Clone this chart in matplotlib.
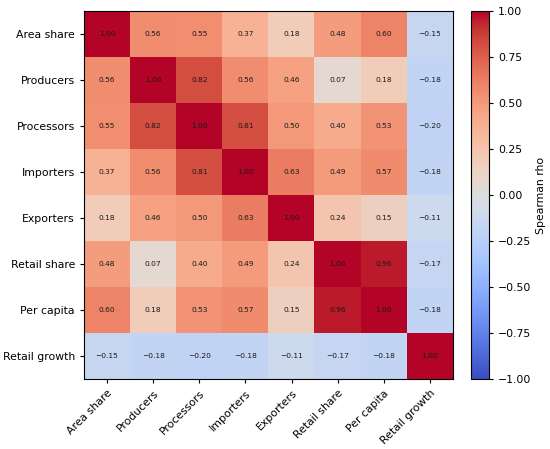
import matplotlib
matplotlib.use("Agg")
import matplotlib.pyplot as plt
import numpy as np

labels = ["Area share", "Producers", "Processors", "Importers", "Exporters",
          "Retail share", "Per capita", "Retail growth"]
row_area = [1.00, 0.56, 0.55, 0.37, 0.18, 0.48, 0.60, -0.15]
row_prod = [0.56, 1.00, 0.82, 0.56, 0.46, 0.07, 0.18, -0.18]
row_proc = [0.55, 0.82, 1.00, 0.81, 0.50, 0.40, 0.53, -0.20]
row_imp = [0.37, 0.56, 0.81, 1.00, 0.63, 0.49, 0.57, -0.18]
row_exp = [0.18, 0.46, 0.50, 0.63, 1.00, 0.24, 0.15, -0.11]
row_ret = [0.48, 0.07, 0.40, 0.49, 0.24, 1.00, 0.96, -0.17]
row_pc = [0.60, 0.18, 0.53, 0.57, 0.15, 0.96, 1.00, -0.18]
row_rg = [-0.15, -0.18, -0.20, -0.18, -0.11, -0.17, -0.18, 1.00]

M = np.array([row_area, row_prod, row_proc, row_imp, row_exp, row_ret, row_pc, row_rg])

fig = plt.figure(figsize=(5.5, 4.49), dpi=100)
ax = fig.add_axes([84/550, 1-379/449, 369/550, 368/449])
cax = fig.add_axes([471/550, 1-379/449, 18/550, 368/449])

im = ax.imshow(M, cmap="coolwarm", vmin=-1, vmax=1, aspect="auto")
n = len(labels)
fs = 7.8
ax.set_xticks(range(n))
ax.set_yticks(range(n))
ax.set_xticklabels(labels, rotation=45, ha="right", rotation_mode="anchor", fontsize=fs)
ax.set_yticklabels(labels, fontsize=fs)
ax.tick_params(length=3)
for i in range(n):
    for j in range(n):
        ax.text(j, i, f"{M[i, j]:.2f}".replace("-", "\u2212"), ha="center", va="center",
                fontsize=5.4, color="#1a1a1a")

cb = fig.colorbar(im, cax=cax)
cb.set_ticks([-1, -0.75, -0.5, -0.25, 0, 0.25, 0.5, 0.75, 1.0])
cb.ax.tick_params(labelsize=fs, length=3)
cb.set_label("Spearman rho", fontsize=fs, labelpad=3)

fig.savefig("out.png", dpi=100)
